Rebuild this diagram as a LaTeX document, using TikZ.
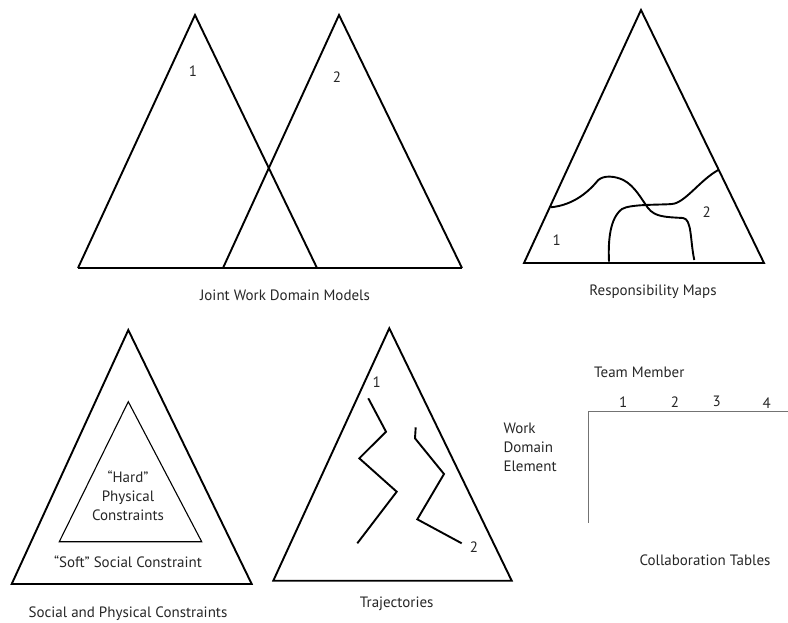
\documentclass[tikz,border=0pt]{standalone}
\usepackage{fontspec}
\setmainfont{PT Sans}
\begin{document}
\begin{tikzpicture}[x=1pt,y=-1pt,
  thick line/.style={line width=1.9pt, line join=miter},
  thin line/.style={line width=1.1pt},
  table line/.style={line width=1.5pt, draw=black!55},
  lbl/.style={font=\fontsize{15}{19}\selectfont, text=black!85, inner sep=0pt},
  captext/.style={font=\fontsize{15}{19}\selectfont, text=black!85, inner sep=0pt}]
\useasboundingbox (0,0) rectangle (788,622);
% Joint Work Domain Models
\draw[thick line] (78,268) -- (195,15) -- (317,268);
\draw[thick line] (223,268) -- (339,15) -- (462,268);
\draw[thick line] (78,268) -- (462,268);
\node[lbl] (j1) at (193,71) {1};
\node[lbl] (j2) at (337,77) {2};
\node[captext] (jc) at (285,295) {Joint Work Domain Models};
% Responsibility Maps
\draw[thick line] (524,263) -- (641,10) -- (764,263) -- cycle;
\draw[thick line] (550.7,207.3) .. controls (575,205) and (590,190) .. (598.3,180)
  .. controls (604,175) and (615,176) .. (623.3,180)
  .. controls (635,186) and (642,200) .. (648,208)
  .. controls (655,217) and (665,217) .. (683,218)
  .. controls (692,219) and (690,240) .. (694.3,260);
\draw[thick line] (609,261.7) .. controls (608,240) and (610,218) .. (622,209)
  .. controls (630,204) and (660,205) .. (672,204)
  .. controls (685,203) and (700,180) .. (718.3,170);
\node[lbl] (r1) at (556.7,240) {1};
\node[lbl] (r2) at (706.7,211.7) {2};
\node[captext] (rc) at (653,291.7) {Responsibility Maps};
% Social and Physical Constraints
\draw[thick line] (11.7,584) -- (128.3,330) -- (251.7,584) -- cycle;
\draw[thin line] (59.3,541.7) -- (128.3,401.7) -- (201.7,541.7) -- cycle;
\node[lbl, align=center] (hard) at (128,495.5) {“Hard”\\Physical\\Constraints};
\node[lbl] (soft) at (128,561.7) {“Soft” Social Constraint};
\node[captext] (sc) at (128,614) {Social and Physical Constraints};
% Trajectories
\draw[thick line] (273.3,580.7) -- (389.3,328.3) -- (511.7,580.7) -- cycle;
\draw[thick line] (368.3,398.3) -- (386,431.7) -- (359.3,458.3) -- (396.7,491.7) -- (357.3,543.3);
\draw[thick line] (415.7,427.3) -- (415,438.3) -- (444,474) -- (417.3,519.3) -- (461.7,543.3);
\node[lbl] (t1) at (376.7,381.7) {1};
\node[lbl] (t2) at (474,547.3) {2};
\node[captext] (tc) at (396.7,603.3) {Trajectories};
% Collaboration Tables
\coordinate (corner) at (588.3,411.7);
\coordinate (hend) at (788,411.7);
\coordinate (vend) at (588.3,523.3);
\draw[table line] (hend) -- (corner) -- (vend);
\node[lbl] (tm) at (639.3,372.7) {Team Member};
\node[lbl] (m1) at (623.3,401.7) {1};
\node[lbl] (m2) at (675,401.7) {2};
\node[lbl] (m3) at (716.7,401.7) {3};
\node[lbl] (m4) at (766.7,403) {4};
\node[lbl, align=left, anchor=west] (wde) at (503.3,447.7) {Work\\Domain\\Element};
\node[captext] (ct) at (705,560) {Collaboration Tables};
\end{tikzpicture}
\end{document}
